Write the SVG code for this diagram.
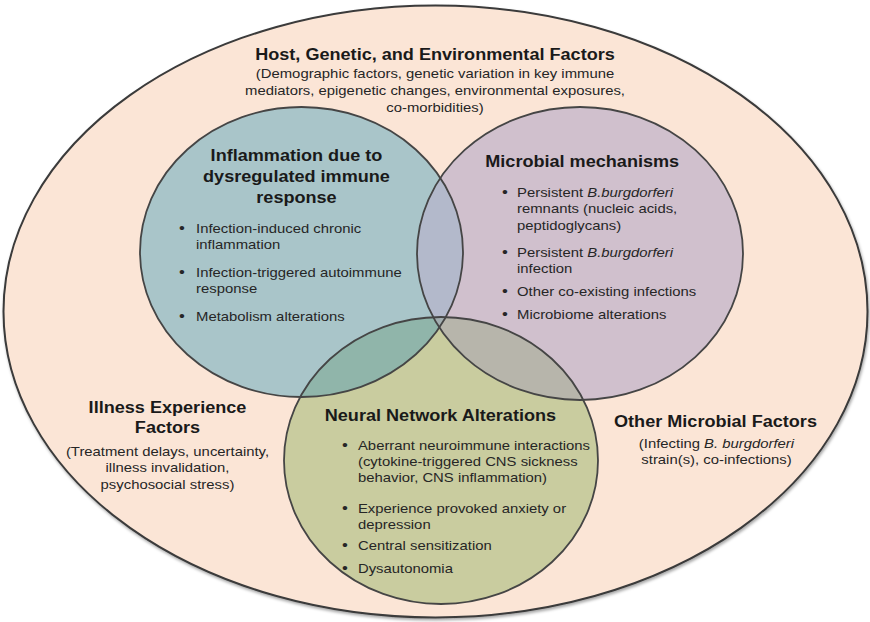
<svg xmlns="http://www.w3.org/2000/svg" xmlns:xlink="http://www.w3.org/1999/xlink" width="870" height="622" viewBox="0 0 870 622">
  <style>
    text { font-family: "Liberation Sans", Arial, Helvetica, sans-serif; }
    .head { font-size: 16.3px; font-weight: bold; fill: #1a1a1a; text-anchor: middle; }
    .sub { font-size: 13.4px; fill: #262626; text-anchor: middle; }
    .item { font-size: 13.4px; fill: #262626; }
    .dot { font-size: 15px; fill: #262626; text-anchor: middle; }
    .it { font-style: italic; }
    .outline { fill: none; stroke: #454545; stroke-width: 1.8; }
  </style>
  <defs>
    <ellipse id="e-teal" cx="301.5" cy="252" rx="161.5" ry="145"/>
    <ellipse id="e-purple" cx="580" cy="253.5" rx="163" ry="146.5"/>
    <ellipse id="e-green" cx="441" cy="460.5" rx="157" ry="143.5"/>
    <clipPath id="clip-teal"><use xlink:href="#e-teal"/></clipPath>
    <clipPath id="clip-purple"><use xlink:href="#e-purple"/></clipPath>
    <filter id="soft-shadow" x="-5%" y="-5%" width="110%" height="110%">
      <feDropShadow dx="1" dy="2" stdDeviation="1.5" flood-color="#000" flood-opacity="0.35"/>
    </filter>
  </defs>

  <!-- outer field: host, genetic and environmental factors -->
  <g id="host-factors">
    <ellipse cx="435.5" cy="311.5" rx="432" ry="306" fill="#fbe5d6" stroke="#3a3a3a" stroke-width="2" filter="url(#soft-shadow)"/>
    <g transform="scale(1.11 1)">
      <text class="head" x="391.9" y="60">Host, Genetic, and Environmental Factors</text>
      <text class="sub" x="391.9" y="78">(Demographic factors, genetic variation in key immune</text>
      <text class="sub" x="391.9" y="95">mediators, epigenetic changes, environmental exposures,</text>
      <text class="sub" x="391.9" y="112">co-morbidities)</text>
    </g>
  </g>

  <g id="inflammation">
    <use xlink:href="#e-teal" fill="#a9c5c9"/>
    <g transform="scale(1.11 1)">
      <text class="head" x="267.1" y="161">Inflammation due to</text>
      <text class="head" x="267.1" y="182">dysregulated immune</text>
      <text class="head" x="267.1" y="203">response</text>
      <text class="dot" x="164" y="233">•</text>
      <text class="item" x="176.6" y="233">Infection-induced chronic</text>
      <text class="item" x="176.6" y="249.5">inflammation</text>
      <text class="dot" x="164" y="277">•</text>
      <text class="item" x="176.6" y="277">Infection-triggered autoimmune</text>
      <text class="item" x="176.6" y="293.5">response</text>
      <text class="dot" x="164" y="321">•</text>
      <text class="item" x="176.6" y="321">Metabolism alterations</text>
    </g>
  </g>

  <g id="microbial">
    <use xlink:href="#e-purple" fill="#d0c0cd"/>
    <g transform="scale(1.11 1)">
      <text class="head" x="524.5" y="167">Microbial mechanisms</text>
      <text class="dot" x="455" y="197">•</text>
      <text class="item" x="465.8" y="197">Persistent <tspan class="it">B.burgdorferi</tspan></text>
      <text class="item" x="465.8" y="213.5">remnants (nucleic acids,</text>
      <text class="item" x="465.8" y="230">peptidoglycans)</text>
      <text class="dot" x="455" y="257">•</text>
      <text class="item" x="465.8" y="257">Persistent <tspan class="it">B.burgdorferi</tspan></text>
      <text class="item" x="465.8" y="273">infection</text>
      <text class="dot" x="455" y="296">•</text>
      <text class="item" x="465.8" y="296">Other co-existing infections</text>
      <text class="dot" x="455" y="319">•</text>
      <text class="item" x="465.8" y="319">Microbiome alterations</text>
    </g>
  </g>

  <g id="neural">
    <use xlink:href="#e-green" fill="#c9cc9f"/>
    <g transform="scale(1.11 1)">
      <text class="head" x="396.8" y="421">Neural Network Alterations</text>
      <text class="dot" x="310.8" y="450">•</text>
      <text class="item" x="322.5" y="450">Aberrant neuroimmune interactions</text>
      <text class="item" x="322.5" y="466">(cytokine-triggered CNS sickness</text>
      <text class="item" x="322.5" y="482">behavior, CNS inflammation)</text>
      <text class="dot" x="310.8" y="513">•</text>
      <text class="item" x="322.5" y="513">Experience provoked anxiety or</text>
      <text class="item" x="322.5" y="529">depression</text>
      <text class="dot" x="310.8" y="550">•</text>
      <text class="item" x="322.5" y="550">Central sensitization</text>
      <text class="dot" x="310.8" y="573">•</text>
      <text class="item" x="322.5" y="573">Dysautonomia</text>
    </g>
  </g>

  <!-- shared regions of the three circles, then their outlines on top -->
  <g id="overlaps">
    <use xlink:href="#e-purple" fill="#b3b9cb" clip-path="url(#clip-teal)"/>
    <use xlink:href="#e-green" fill="#90b5aa" clip-path="url(#clip-teal)"/>
    <use xlink:href="#e-green" fill="#b7b5ab" clip-path="url(#clip-purple)"/>
    <g clip-path="url(#clip-teal)">
      <use xlink:href="#e-green" fill="#a3aeb0" clip-path="url(#clip-purple)"/>
    </g>
    <use xlink:href="#e-teal" class="outline"/>
    <use xlink:href="#e-purple" class="outline"/>
    <use xlink:href="#e-green" class="outline"/>
  </g>

  <g id="illness-experience">
    <g transform="scale(1.11 1)">
      <text class="head" x="150.9" y="413">Illness Experience</text>
      <text class="head" x="150.9" y="433">Factors</text>
      <text class="sub" x="150.9" y="456">(Treatment delays, uncertainty,</text>
      <text class="sub" x="150.9" y="472.5">illness invalidation,</text>
      <text class="sub" x="150.9" y="489">psychosocial stress)</text>
    </g>
  </g>

  <g id="other-microbial">
    <g transform="scale(1.11 1)">
      <text class="head" x="644.6" y="427">Other Microbial Factors</text>
      <text class="sub" x="645.5" y="448">(Infecting <tspan class="it">B. burgdorferi</tspan></text>
      <text class="sub" x="645.5" y="464">strain(s), co-infections)</text>
    </g>
  </g>
</svg>
